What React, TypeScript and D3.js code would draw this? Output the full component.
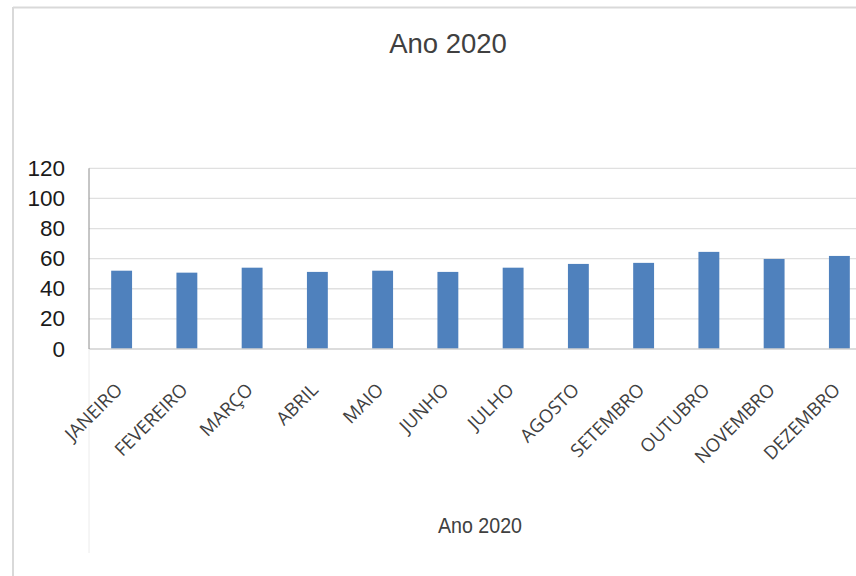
import React from "react";
import * as d3 from "d3";

const months = ["JANEIRO", "FEVEREIRO", "MARÇO", "ABRIL", "MAIO", "JUNHO", "JULHO", "AGOSTO", "SETEMBRO", "OUTUBRO", "NOVEMBRO", "DEZEMBRO"];
const values = [52, 50.7, 54, 51.2, 52, 51.2, 54, 56.5, 57.2, 64.5, 59.8, 61.8];
const yTicks = [0, 20, 40, 60, 80, 100, 120];
const chartTitle = "Ano 2020";
const axisTitle = "Ano 2020";

export default function App() {
  const W = 856, H = 576;
  const x0 = 89, x1 = 872;
  const y0 = 349, y1 = 168.3;
  const x = d3.scaleBand<string>().domain(months).range([x0, x1]).paddingInner(0.68).paddingOuter(0.34);
  const y = d3.scaleLinear().domain([0, 120]).range([y0, y1]);

  return (
    <svg width={W} height={H} style={{ position: "fixed", left: 0, top: 0, background: "#fff" }}>
      <rect x={0} y={0} width={W} height={H} fill="#fff" />
      {/* chart border (partially visible) */}
      <line x1={13} y1={7.5} x2={W} y2={7.5} stroke="#d9d9d9" strokeWidth={2} />
      <line x1={13} y1={7} x2={13} y2={H} stroke="#d9d9d9" strokeWidth={2} />
      <text x={448} y={53} textAnchor="middle" fontFamily="Liberation Sans, Arial, sans-serif" fontSize={27.5} fill="#404040">{chartTitle}</text>
      {/* gridlines */}
      {yTicks.filter(t => t > 0).map(t => (
        <line key={t} x1={x0} x2={W} y1={y(t)} y2={y(t)} stroke="#e0e0e0" strokeWidth={1.3} />
      ))}
      {/* bars */}
      {months.map((m, i) => (
        <rect key={m} x={x(m)} y={y(values[i])} width={x.bandwidth()} height={y0 - y(values[i])} fill="#4f81bd" />
      ))}
      {/* axes */}
      <line x1={x0} x2={W} y1={y0} y2={y0} stroke="#d0d0d0" strokeWidth={1.5} />
      <line x1={x0} x2={x0} y1={y1} y2={y0} stroke="#8c8c8c" strokeWidth={1} />
      <line x1={x0} x2={x0} y1={y0} y2={553} stroke="#ececec" strokeWidth={1} />
      {yTicks.map(t => (
        <text key={t} x={65} y={y(t) + 7.5} textAnchor="end" fontFamily="Liberation Sans, Arial, sans-serif" fontSize={22.5} fill="#1a1a1a">{t}</text>
      ))}
      {months.map(m => {
        const cx = (x(m) as number) + x.bandwidth() / 2;
        const ax = cx + 2, ay = 391;
        return (
          <text key={m} x={ax} y={ay} transform={`rotate(-45 ${ax} ${ay})`} textAnchor="end" fontFamily="Open Sans, sans-serif" fontSize={18.5} fill="#404040">{m}</text>
        );
      })}
      <text x={480} y={532.7} textAnchor="middle" fontFamily="Liberation Sans, Arial, sans-serif" fontSize={21.5} textLength={84} lengthAdjust="spacingAndGlyphs" fill="#404040">{axisTitle}</text>
    </svg>
  );
}
